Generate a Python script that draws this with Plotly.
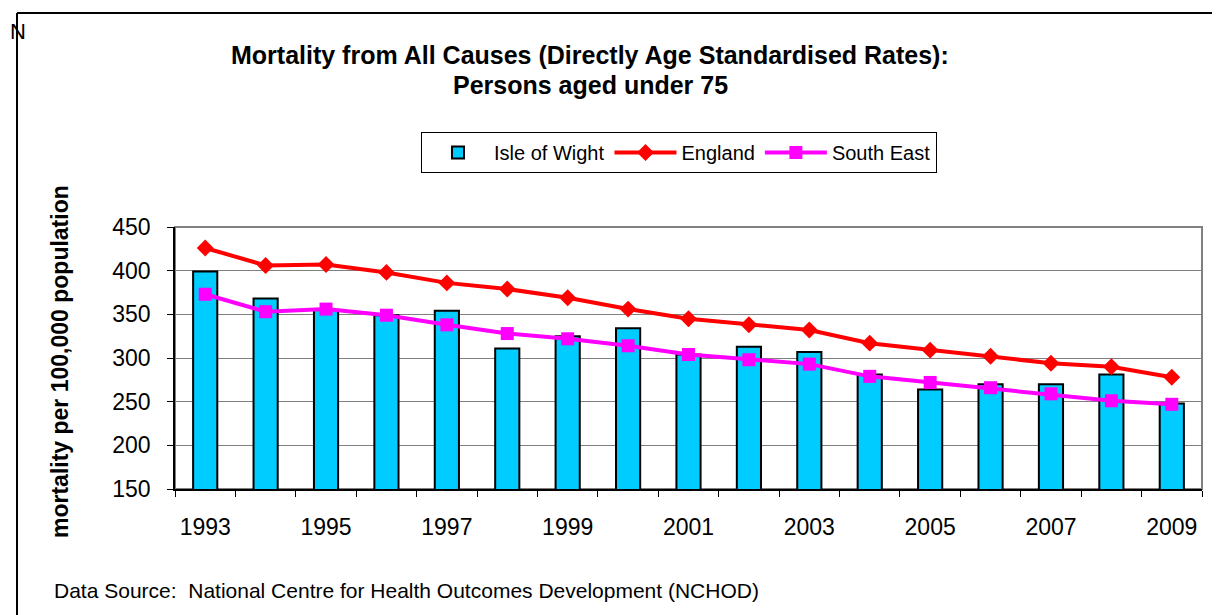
import plotly.graph_objects as go

years = list(range(1993, 2010))
isle_of_wight = [399, 368, 355, 349, 354, 311, 325, 334, 304, 313, 307, 281, 264, 270, 270, 281, 248]
england = [426, 406, 407, 398, 386, 379, 369, 356, 345, 338, 332, 317, 309, 302, 294, 290, 278]
south_east = [373, 353, 356, 349, 338, 328, 322, 314, 304, 298, 293, 279, 272, 266, 259, 251, 247]

title_line1 = "Mortality from All Causes (Directly Age Standardised Rates):"
title_line2 = "Persons aged under 75"
y_title = "mortality per 100,000 population"
source_text = "Data Source:  National Centre for Health Outcomes Development (NCHOD)"

FONT = "Arial, Liberation Sans, sans-serif"

W, H = 1220, 615
OFF = 8  # page body margin
# plot area in page coordinates
L, R, T, B = 175, 1202, 227, 489


def px(x):
    return (x - L) / (R - L)


def py(y):
    return (B - y) / (B - T)


fig = go.Figure()
fig.add_trace(go.Bar(
    x=years, y=isle_of_wight, name="Isle of Wight",
    marker=dict(color="#00CCFF", line=dict(color="black", width=2)),
    width=0.4,
))
fig.add_trace(go.Scatter(
    x=years, y=england, name="England", mode="lines+markers",
    line=dict(color="#FF0000", width=4),
    marker=dict(symbol="diamond", size=13, color="#FF0000"),
))
fig.add_trace(go.Scatter(
    x=years, y=south_east, name="South East", mode="lines+markers",
    line=dict(color="#FF00FF", width=4),
    marker=dict(symbol="square", size=13, color="#FF00FF"),
))

fig.update_layout(
    width=W, height=H, autosize=False,
    margin=dict(l=L - OFF, r=W - (R - OFF), t=T - OFF, b=H - (B - OFF), pad=0),
    paper_bgcolor="white", plot_bgcolor="white",
    font=dict(family=FONT, size=20, color="black"),
    showlegend=True,
    legend=dict(
        orientation="h", x=px(679), xanchor="center", y=py(132), yanchor="top",
        bordercolor="black", borderwidth=1, bgcolor="white",
        font=dict(size=20, family=FONT), itemwidth=62,
        traceorder="normal",
    ),
    xaxis=dict(
        range=[1992.5, 2009.5], tick0=1993, dtick=2, tickmode="linear",
        ticks="", ticklen=0, showgrid=False, zeroline=False,
        showline=True, linecolor="black", linewidth=1.5,
        ticklabelstandoff=17,
        tickfont=dict(size=23, family=FONT),
        minor=dict(ticks="outside", tick0=1992.5, dtick=1, ticklen=6,
                   tickcolor="black", tickwidth=1, showgrid=False),
    ),
    yaxis=dict(
        range=[150, 450], tick0=150, dtick=50, tickmode="linear",
        ticks="outside", ticklen=6, tickcolor="black",
        showgrid=True, gridcolor="#808080", gridwidth=1,
        zeroline=False, showline=True, linecolor="black", linewidth=1.5,
        ticklabelstandoff=12,
        tickfont=dict(size=23, family=FONT),
    ),
    shapes=[
        dict(type="rect", xref="paper", yref="paper", x0=0, x1=1, y0=0, y1=1,
             line=dict(color="#808080", width=2), layer="below"),
        dict(type="line", xref="paper", yref="paper", x0=px(17), x1=px(17),
             y0=py(13), y1=py(660), line=dict(color="black", width=2)),
        dict(type="line", xref="paper", yref="paper", x0=px(17), x1=px(1260),
             y0=py(13), y1=py(13), line=dict(color="black", width=2)),
    ],
    annotations=[
        dict(text="<b>" + title_line1 + "</b>", xref="paper", yref="paper",
             x=px(590), y=py(55), xanchor="center", yanchor="middle",
             showarrow=False, font=dict(size=25, family=FONT)),
        dict(text="<b>" + title_line2 + "</b>", xref="paper", yref="paper",
             x=px(590), y=py(85), xanchor="center", yanchor="middle",
             showarrow=False, font=dict(size=25, family=FONT)),
        dict(text="<b>" + y_title + "</b>", xref="paper", yref="paper",
             x=px(60), y=py(362), xanchor="center", yanchor="middle",
             textangle=-90, showarrow=False, font=dict(size=23, family=FONT)),
        dict(text=source_text, xref="paper", yref="paper",
             x=px(52), y=py(590), xanchor="left", yanchor="middle",
             showarrow=False, font=dict(size=21, family=FONT)),
        dict(text="N", xref="paper", yref="paper",
             x=px(8), y=py(31), xanchor="left", yanchor="middle",
             showarrow=False, font=dict(size=22, family=FONT)),
    ],
)

fig.write_html("out.html")
